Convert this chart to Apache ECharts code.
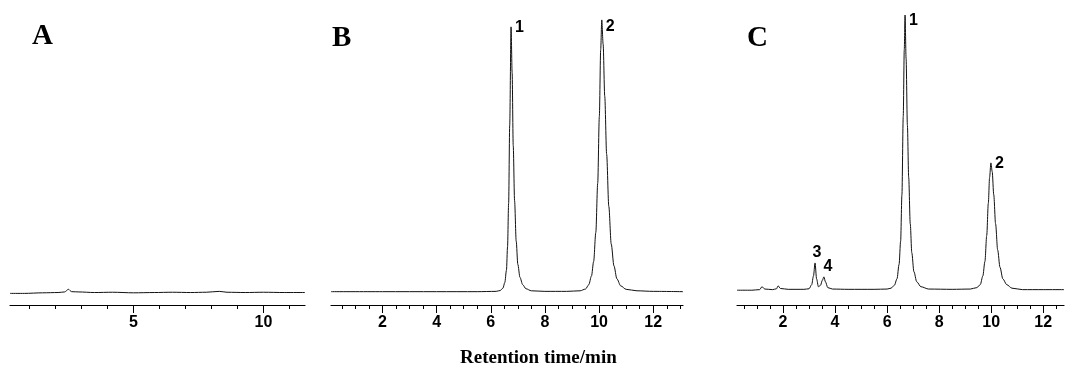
<!DOCTYPE html>
<html>
<head>
<meta charset="utf-8">
<script src="https://cdn.jsdelivr.net/npm/echarts@6/dist/echarts.min.js"></script>
<style>
  html, body {margin: 0; padding: 0; background: #fff;}
  #chart {width: 1066px; height: 369px;}
</style>
</head>
<body>
<div id="chart"></div>
<script>
// retention time (min) vs detector signal
const traceA = [[0.25,4.0],[0.8,4.0],[1.5,4.2],[2.1,4.3],[2.35,4.5],[2.5,5.4],[2.62,4.6],[2.9,4.5],[3.5,4.3],[4.2,4.4],[5,4.2],[5.8,4.3],[6.5,4.4],[7.2,4.3],[7.8,4.4],[8.3,4.7],[8.6,4.4],[9.3,4.3],[10,4.4],[10.8,4.3],[11.6,4.3]];
const traceB = [[0.1,4.6],[2,4.6],[4,4.6],[5.5,4.6],[6.2,4.7],[6.35,5.0],[6.45,5.8],[6.52,7.8],[6.58,12],[6.62,20],[6.66,35],[6.70,62],[6.75,95.9],[6.79,80],[6.83,55],[6.88,36],[6.94,22],[7.0,14],[7.08,9.5],[7.18,7],[7.3,5.6],[7.5,4.9],[8,4.7],[8.8,4.7],[9.3,4.9],[9.5,5.5],[9.62,7],[9.72,10],[9.8,15],[9.88,25],[9.95,42],[10.01,65],[10.06,88],[10.1,98.3],[10.15,90],[10.21,72],[10.28,52],[10.36,34],[10.45,21],[10.55,13.5],[10.66,9],[10.8,6.6],[11,5.4],[11.4,4.9],[12,4.7],[13.1,4.6]];
const traceC = [[0.23,5.1],[0.8,5.1],[1.1,5.3],[1.19,6.3],[1.3,5.5],[1.6,5.3],[1.75,5.6],[1.81,6.6],[1.9,5.7],[2.2,5.4],[2.8,5.4],[3.0,5.6],[3.1,7],[3.17,10],[3.23,14.5],[3.29,9],[3.36,6.3],[3.44,6.8],[3.51,8.5],[3.57,9.7],[3.63,8],[3.72,6],[3.9,5.5],[4.5,5.4],[5.5,5.4],[6.0,5.5],[6.15,5.8],[6.28,6.8],[6.38,9],[6.46,14],[6.52,22],[6.57,38],[6.62,65],[6.66,88],[6.69,100],[6.73,85],[6.78,62],[6.83,44],[6.89,28],[6.95,18],[7.03,11.5],[7.14,8],[7.3,6.3],[7.6,5.5],[8.5,5.4],[9.2,5.5],[9.45,6],[9.58,7],[9.68,10],[9.76,15],[9.83,24],[9.89,35],[9.94,44],[9.99,49],[10.04,46],[10.1,38],[10.17,28],[10.25,19],[10.34,13],[10.45,9],[10.6,7],[10.8,5.8],[11.2,5.3],[12,5.3],[12.8,5.3]];

// peak numbers sit on the apex points
const peaksB = [6.75, 10.1];
const peakNamesB = ['1', '2'];
const peaksC = [6.69, 9.99, 3.23, 3.57];
const peakNamesC = ['1', '2', '3', '4'];

// axis ticks
const majorA = [5, 10];
const minorA = [1, 2, 3, 4, 5, 6, 7, 8, 9, 10, 11];
const majorB = [2, 4, 6, 8, 10, 12];
const minorB = [0.5, 1, 1.5, 2, 2.5, 3, 3.5, 4, 4.5, 5, 5.5, 6, 6.5, 7, 7.5, 8, 8.5, 9, 9.5, 10, 10.5, 11, 11.5, 12, 12.5, 13];
const majorC = [2, 4, 6, 8, 10, 12];
const minorC = [0.5, 1, 1.5, 2, 2.5, 3, 3.5, 4, 4.5, 5, 5.5, 6, 6.5, 7, 7.5, 8, 8.5, 9, 9.5, 10, 10.5, 11, 11.5, 12, 12.5];

const panels = [
    {name: 'A', left: 10, width: 295, min: 0.25, max: 11.6, data: traceA, major: majorA, minor: minorA, peaks: [], names: []},
    {name: 'B', left: 331, width: 352, min: 0.1, max: 13.1, data: traceB, major: majorB, minor: minorB, peaks: peaksB, names: peakNamesB},
    {name: 'C', left: 737, width: 327, min: 0.23, max: 12.8, data: traceC, major: majorC, minor: minorC, peaks: peaksC, names: peakNamesC}
];

// label placement for each peak number (by panel, in order)
const labelPos = {
    B: [{position: 'right', distance: 4, offset: [0, 1]}, {position: 'right', distance: 4, offset: [0, 7]}],
    C: [{position: 'right', distance: 4, offset: [0, 6]}, {position: 'right', distance: 4, offset: [0, 1]},
        {position: 'top', distance: 2, offset: [2, 0]}, {position: 'top', distance: 2, offset: [4, 0]}]
};

const grid = [], xAxis = [], yAxis = [], series = [];
panels.forEach((p, i) => {
    grid.push({left: p.left, width: p.width, top: 15, bottom: 64});
    xAxis.push({
        type: 'value', gridIndex: i, min: p.min, max: p.max, position: 'bottom',
        axisLine: {show: true, lineStyle: {color: '#000', width: 1.2}},
        axisTick: {show: true, inside: false, length: 8, customValues: p.major, lineStyle: {color: '#000', width: 1}},
        axisLabel: {show: true, customValues: p.major, margin: 10, color: '#000',
            fontFamily: 'Liberation Sans, Arial, sans-serif', fontSize: 16, fontWeight: 'bold'},
        splitLine: {show: false}
    });
    xAxis.push({
        type: 'value', gridIndex: i, min: p.min, max: p.max, position: 'bottom', offset: 0,
        axisLine: {show: false},
        axisTick: {show: true, inside: false, length: 4, customValues: p.minor, lineStyle: {color: '#000', width: 1}},
        axisLabel: {show: false},
        splitLine: {show: false}
    });
    yAxis.push({type: 'value', gridIndex: i, min: 0, max: 100, show: false, splitLine: {show: false}});
    series.push({
        type: 'line', xAxisIndex: i * 2, yAxisIndex: i,
        symbol: 'circle', symbolSize: 0, showSymbol: true,
        smooth: 0.3, smoothMonotone: 'x',
        lineStyle: {color: '#111', width: 1},
        itemStyle: {color: '#111'},
        data: p.data.map(pt => {
            const k = p.peaks.indexOf(pt[0]);
            if (k < 0) return pt;
            return {value: pt, label: Object.assign({
                show: true, formatter: p.names[k], color: '#000',
                fontFamily: 'Liberation Sans, Arial, sans-serif', fontSize: 16, fontWeight: 'bold'
            }, labelPos[p.name][k])};
        })
    });
});

const chart = echarts.init(document.getElementById('chart'));
chart.setOption({
    animation: false,
    backgroundColor: '#fff',
    grid: grid,
    xAxis: xAxis,
    yAxis: yAxis,
    series: series,
    graphic: [
        {type: 'text', left: 32, top: 22, style: {text: 'A', font: 'bold 29px "Liberation Serif", "Times New Roman", serif', fill: '#000'}},
        {type: 'text', left: 332, top: 24, style: {text: 'B', font: 'bold 29px "Liberation Serif", "Times New Roman", serif', fill: '#000'}},
        {type: 'text', left: 747, top: 24, style: {text: 'C', font: 'bold 29px "Liberation Serif", "Times New Roman", serif', fill: '#000'}},
        {type: 'text', left: 460, top: 349, style: {text: 'Retention time/min', font: 'bold 19px "Liberation Serif", "Times New Roman", serif', fill: '#000'}}
    ]
});
</script>
</body>
</html>
